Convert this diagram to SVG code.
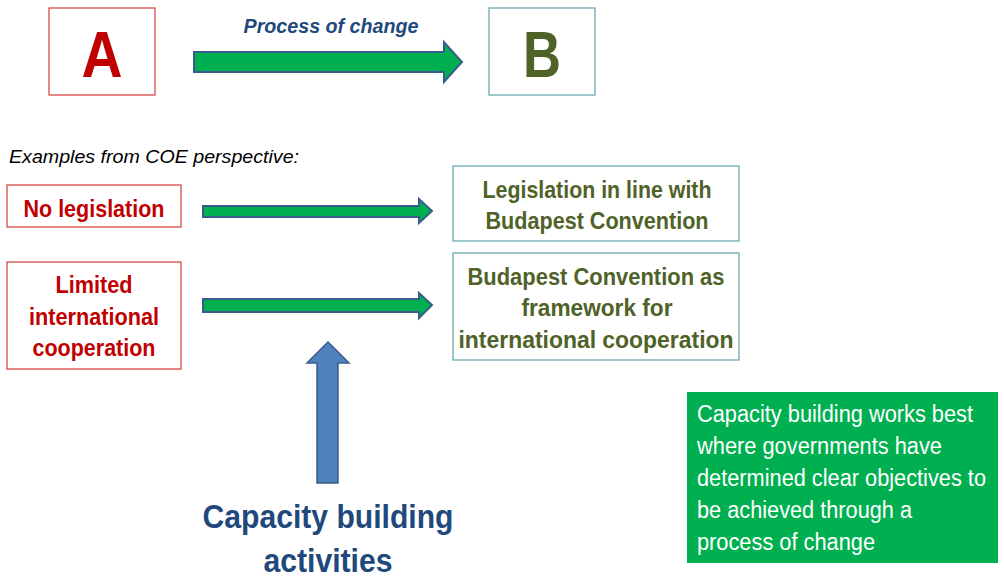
<svg xmlns="http://www.w3.org/2000/svg" width="1004" height="577" viewBox="0 0 1004 577">
<style>
.t{font-family:"Liberation Sans Narrow","Liberation Sans",Arial,sans-serif}
.red{fill:#C00000;font-weight:bold}
.olive{fill:#4F6228;font-weight:bold}
.rbox{fill:#fff;stroke:#D43A3A;stroke-width:1.2}
.gbox{fill:#fff;stroke:#5FA3A8;stroke-width:1.2}
.garrow{fill:#00B050;stroke:#385D8A;stroke-width:2}
</style>
<rect width="1004" height="577" fill="#fff"/>
<g id="nodeA"><rect class="rbox" x="49" y="8" width="106" height="87"/><text class="t red" x="102" y="77" font-size="65" text-anchor="middle" textLength="41" lengthAdjust="spacingAndGlyphs">A</text></g>
<g id="nodeB"><rect class="gbox" x="489" y="8" width="106" height="87"/><text class="t olive" x="542" y="77" font-size="65" text-anchor="middle" textLength="38" lengthAdjust="spacingAndGlyphs">B</text></g>
<g id="label-process"><text class="t" x="331" y="33" font-size="21" font-style="italic" font-weight="bold" fill="#1F497D" text-anchor="middle" textLength="175" lengthAdjust="spacingAndGlyphs">Process of change</text></g>
<g id="label-examples"><text class="t" x="9" y="163" font-size="18" font-style="italic" fill="#000" textLength="290" lengthAdjust="spacingAndGlyphs">Examples from COE perspective:</text></g>
<g id="nodeNoLeg"><rect class="rbox" x="7" y="185" width="174" height="42"/><text class="t red" x="94" y="217" font-size="24" text-anchor="middle" textLength="141" lengthAdjust="spacingAndGlyphs">No legislation</text></g>
<g id="nodeLimited"><rect class="rbox" x="7" y="262" width="174" height="107"/>
<text class="t red" x="94" y="293" font-size="24" text-anchor="middle" textLength="77" lengthAdjust="spacingAndGlyphs">Limited</text>
<text class="t red" x="94" y="325" font-size="24" text-anchor="middle" textLength="130" lengthAdjust="spacingAndGlyphs">international</text>
<text class="t red" x="94" y="356" font-size="24" text-anchor="middle" textLength="123" lengthAdjust="spacingAndGlyphs">cooperation</text></g>
<g id="nodeLegislation"><rect class="gbox" x="453" y="166" width="286" height="75"/>
<text class="t olive" x="597" y="198" font-size="24" text-anchor="middle" textLength="229" lengthAdjust="spacingAndGlyphs">Legislation in line with</text>
<text class="t olive" x="597" y="229" font-size="24" text-anchor="middle" textLength="223" lengthAdjust="spacingAndGlyphs">Budapest Convention</text></g>
<g id="nodeFramework"><rect class="gbox" x="453" y="253" width="286" height="107"/>
<text class="t olive" x="596" y="285" font-size="24" text-anchor="middle" textLength="257" lengthAdjust="spacingAndGlyphs">Budapest Convention as</text>
<text class="t olive" x="597" y="316" font-size="24" text-anchor="middle" textLength="151" lengthAdjust="spacingAndGlyphs">framework for</text>
<text class="t olive" x="596" y="348" font-size="24" text-anchor="middle" textLength="275" lengthAdjust="spacingAndGlyphs">international cooperation</text></g>
<g id="nodeCapacity"><text class="t" x="328" y="528" font-size="34" font-weight="bold" fill="#1F497D" text-anchor="middle" textLength="251" lengthAdjust="spacingAndGlyphs">Capacity building</text>
<text class="t" x="328" y="572" font-size="34" font-weight="bold" fill="#1F497D" text-anchor="middle" textLength="129" lengthAdjust="spacingAndGlyphs">activities</text></g>
<g id="nodeNote"><rect x="687" y="392" width="311" height="171" fill="#00B050"/>
<g class="t" font-size="23" fill="#fff">
<text x="697" y="422" textLength="276" lengthAdjust="spacingAndGlyphs">Capacity building works best</text>
<text x="697" y="454" textLength="245" lengthAdjust="spacingAndGlyphs">where governments have</text>
<text x="697" y="486" textLength="289" lengthAdjust="spacingAndGlyphs">determined clear objectives to</text>
<text x="697" y="518" textLength="215" lengthAdjust="spacingAndGlyphs">be achieved through a</text>
<text x="697" y="550" textLength="178" lengthAdjust="spacingAndGlyphs">process of change</text></g></g>
<g id="connectors">
<polygon class="garrow" points="194,52 444,52 444,42 462,62 444,82 444,72 194,72"/>
<polygon class="garrow" points="203,206 419,206 419,199 432,211 419,223 419,217 203,217"/>
<polygon class="garrow" points="203,299 419,299 419,293 432,305 419,318 419,312 203,312"/>
<polygon fill="#4F81BD" stroke="#385D8A" stroke-width="1.5" points="328,342 349,363 338,363 338,483 317,483 317,363 307,363"/>
</g>
</svg>
